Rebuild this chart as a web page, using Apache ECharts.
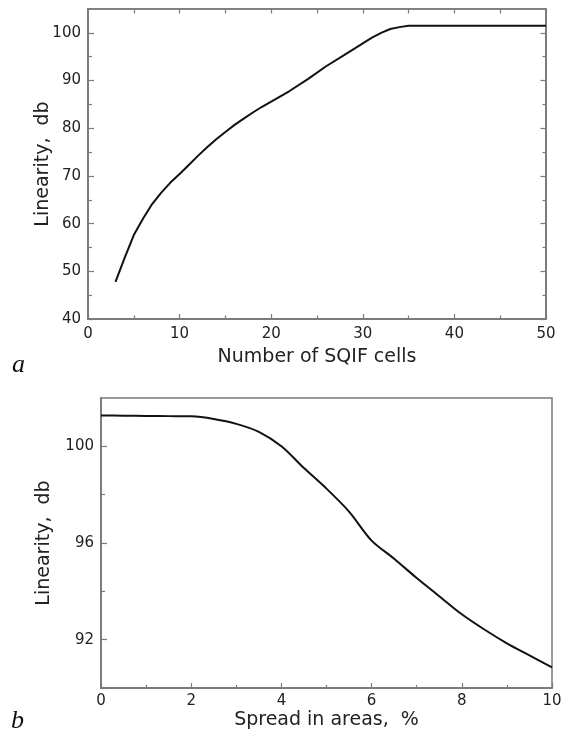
<!DOCTYPE html>
<html>
<head>
<meta charset="utf-8">
<script src="https://cdn.jsdelivr.net/npm/echarts@6/dist/echarts.min.js"></script>
<style>
html,body{margin:0;padding:0;background:#fff;}
#chart{width:562px;height:736px;}
</style>
</head>
<body>
<div id="chart"></div>
<script>
// ---- Panel a: Linearity vs number of SQIF cells ----
var aCells = [3, 4, 5, 6, 7, 8, 9, 10, 11, 12, 13, 14, 15, 16, 17, 18, 19, 20, 22, 24, 26, 28, 30, 31, 32, 33, 34, 35, 50];
var aLinearity = [47.8, 52.8, 57.6, 61.0, 64.1, 66.5, 68.6, 70.4, 72.3, 74.2, 76.0, 77.7, 79.2, 80.7, 82.0, 83.3, 84.5, 85.6, 87.8, 90.3, 93.0, 95.4, 97.8, 99.0, 100.0, 100.8, 101.2, 101.5, 101.5];
var aXTicks = [0, 10, 20, 30, 40, 50];
var aXMinor = [5, 15, 25, 35, 45];
var aXTopTicks = [5, 10, 15, 20, 25, 30, 35, 40, 45];
var aYTicks = [40, 50, 60, 70, 80, 90, 100];
var aYMinor = [45, 55, 65, 75, 85, 95];

// ---- Panel b: Linearity vs spread in areas ----
var bSpread = [0, 0.5, 1, 1.5, 2, 2.5, 3, 3.5, 4, 4.5, 5, 5.5, 6, 6.5, 7, 7.5, 8, 8.5, 9, 9.5, 10];
var bLinearity = [101.28, 101.27, 101.26, 101.25, 101.24, 101.13, 100.93, 100.6, 100.0, 99.1, 98.25, 97.3, 96.1, 95.35, 94.55, 93.8, 93.05, 92.42, 91.85, 91.35, 90.85];
var bXTicks = [0, 2, 4, 6, 8, 10];
var bXMinor = [1, 3, 5, 7, 9];
var bYTicks = [92, 96, 100];
var bYMinor = [94, 98];

var FONT = 'DejaVu Sans';
var AXIS_COLOR = '#7a7a7a';
var TEXT_COLOR = '#222';

function zip(xs, ys) { return xs.map(function (x, i) { return [x, ys[i]]; }); }

function baseAxis(gridIndex, position, min, max, interval) {
  return {
    type: 'value', gridIndex: gridIndex, position: position,
    min: min, max: max, interval: interval,
    axisLine: { show: true, onZero: false, lineStyle: { color: AXIS_COLOR, width: 1.5 } },
    splitLine: { show: false },
    axisLabel: { show: false },
    axisTick: { show: false }
  };
}
function tickAxis(gridIndex, position, min, max, interval, values, len, labels, labelMargin, name, nameGap) {
  var ax = baseAxis(gridIndex, position, min, max, interval);
  ax.axisTick = { show: true, inside: true, length: len, customValues: values,
                  lineStyle: { color: AXIS_COLOR, width: 1.2 } };
  if (labels) {
    ax.axisLabel = { show: true, customValues: labels, margin: labelMargin,
                     color: TEXT_COLOR, fontFamily: FONT, fontSize: 15 };
  }
  if (name) {
    ax.name = name;
    ax.nameLocation = 'middle';
    ax.nameGap = nameGap;
    ax.nameMoveOverlap = false;
    ax.nameTextStyle = { color: TEXT_COLOR, fontFamily: FONT, fontSize: 19 };
  }
  return ax;
}

var option = {
  animation: false,
  backgroundColor: '#fff',
  grid: [
    { left: 88, top: 9, width: 458, height: 310, show: true, borderColor: AXIS_COLOR, borderWidth: 1.5, outerBoundsMode: 'none', containLabel: false },
    { left: 101, top: 398, width: 451, height: 290, show: true, borderColor: AXIS_COLOR, borderWidth: 1.5, outerBoundsMode: 'none', containLabel: false }
  ],
  xAxis: [
    tickAxis(0, 'bottom', 0, 50, 5, aXTicks, 5, aXTicks, 8, 'Number of SQIF cells', 29),
    tickAxis(0, 'bottom', 0, 50, 5, aXMinor, 3.5),
    tickAxis(0, 'top', 0, 50, 5, aXTopTicks, 4.5),
    tickAxis(1, 'bottom', 0, 10, 1, bXTicks, 5, bXTicks, 6, 'Spread in areas,  %', 23),
    tickAxis(1, 'bottom', 0, 10, 1, bXMinor, 3)
  ],
  yAxis: [
    tickAxis(0, 'left', 40, 105, 5, aYTicks, 6, aYTicks, 7, 'Linearity,  db', 35),
    tickAxis(0, 'left', 40, 105, 5, aYMinor, 4),
    tickAxis(0, 'right', 40, 105, 5, aYTicks, 5.5),
    tickAxis(0, 'right', 40, 105, 5, aYMinor, 3.5),
    tickAxis(1, 'left', 90, 102, 2, bYTicks, 6, bYTicks, 7, 'Linearity,  db', 47),
    tickAxis(1, 'left', 90, 102, 2, bYMinor, 4)
  ],
  series: [
    { type: 'line', xAxisIndex: 0, yAxisIndex: 0, data: zip(aCells, aLinearity),
      showSymbol: false, smooth: false, lineStyle: { color: '#111', width: 2, join: 'round' } },
    { type: 'line', xAxisIndex: 3, yAxisIndex: 4, data: zip(bSpread, bLinearity),
      showSymbol: false, smooth: 0.3, lineStyle: { color: '#111', width: 2 } }
  ],
  graphic: [
    { type: 'text', left: 12, top: 352, style: { text: 'a', font: 'italic 26px "Liberation Serif"', fill: '#111' } },
    { type: 'text', left: 11, top: 708, style: { text: 'b', font: 'italic 26px "Liberation Serif"', fill: '#111' } }
  ]
};

var chart = echarts.init(document.getElementById('chart'), null, { renderer: 'canvas' });
chart.setOption(option);
</script>
</body>
</html>
